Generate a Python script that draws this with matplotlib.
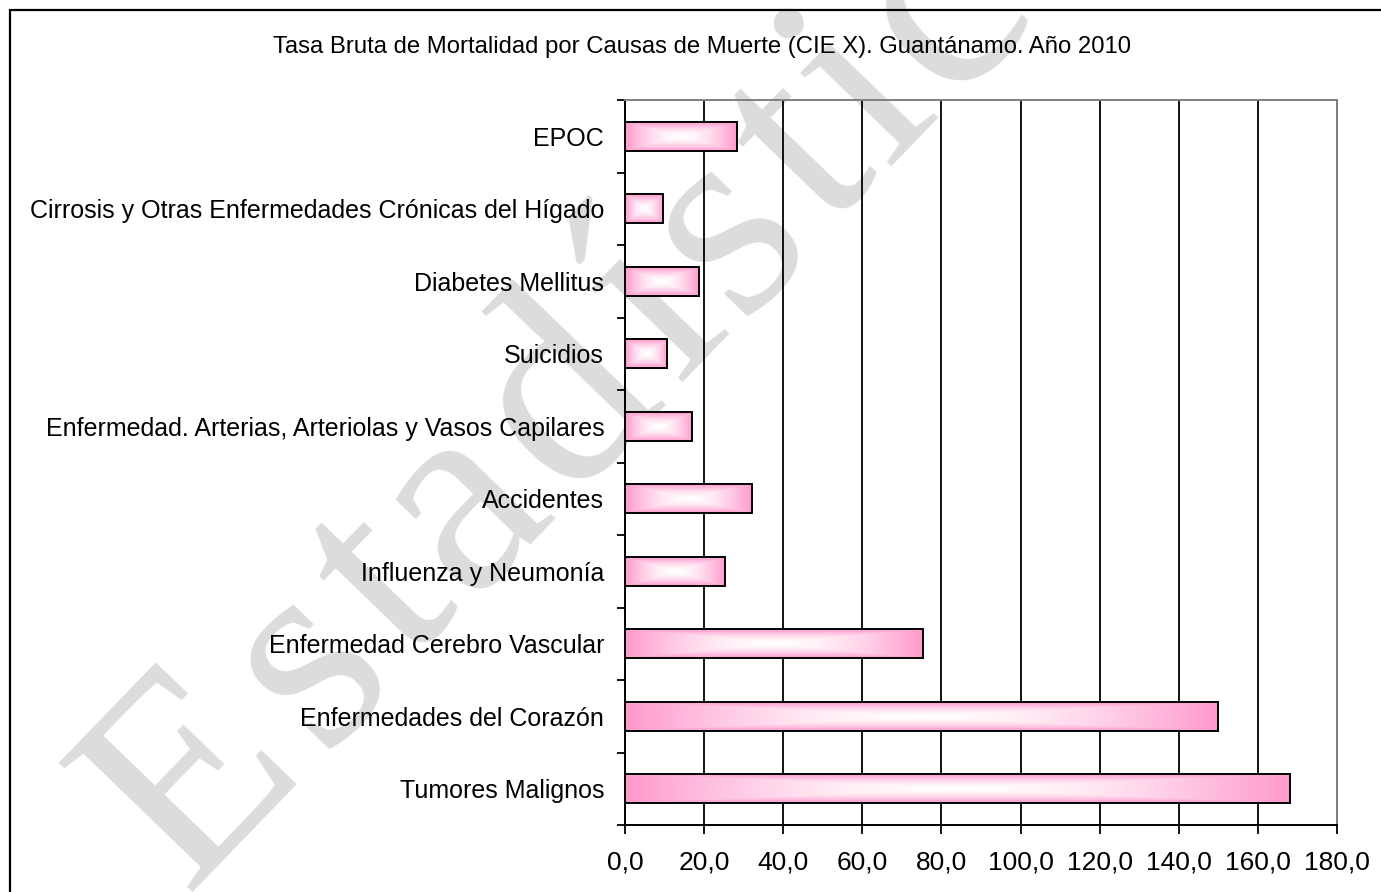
import matplotlib
matplotlib.use("Agg")
import matplotlib.pyplot as plt
import numpy as np
from matplotlib.patches import Rectangle
from matplotlib.colors import to_rgb
from matplotlib.font_manager import FontProperties
from matplotlib.textpath import TextToPath

# datos (de abajo hacia arriba)
causas = ["Tumores Malignos",
          "Enfermedades del Corazón",
          "Enfermedad Cerebro Vascular",
          "Influenza y Neumonía",
          "Accidentes",
          "Enfermedad. Arterias, Arteriolas y Vasos Capilares",
          "Suicidios",
          "Diabetes Mellitus",
          "Cirrosis y Otras Enfermedades Crónicas del Hígado",
          "EPOC"]
tasas = [168.2, 149.8, 75.3, 25.3, 32.1, 17.0, 10.7, 18.6, 9.7, 28.2]
xticks = [0, 20, 40, 60, 80, 100, 120, 140, 160, 180]
xlabels = ["0,0", "20,0", "40,0", "60,0", "80,0", "100,0", "120,0", "140,0", "160,0", "180,0"]
titulo = "Tasa Bruta de Mortalidad por Causas de Muerte (CIE X). Guantánamo. Año 2010"
marca = "Estadísticas"

plt.rcParams['font.family'] = ['Liberation Sans', 'DejaVu Sans']

W, H = 1381, 892
fig = plt.figure(figsize=(W / 100, H / 100), dpi=100)
fig.patch.set_facecolor("white")

# marco de la figura
fig.patches.append(Rectangle((10 / W, -0.05), 1.2, 1.05 - 10 / H,
                             transform=fig.transFigure, fill=False,
                             edgecolor="black", linewidth=1.6, zorder=5))

# marca de agua, letra por letra con espaciado amplio
wm_size = 205
wm_ang = 46
wm_spacing = 1.12
prop = FontProperties(family="Liberation Serif", size=wm_size)
ttp = TextToPath()
x0, y0 = 185.0, 0.0
ca, sa = np.cos(np.radians(wm_ang)), np.sin(np.radians(wm_ang))
for k, ch in enumerate(marca):
    if k == 0:
        d = 0.0
    else:
        wpt = ttp.get_text_width_height_descent(marca[:k], prop, ismath=False)[0]
        d = wpt * 100 / 72 * wm_spacing
    fig.text((x0 + d * ca) / W, (y0 + d * sa) / H, ch, rotation=wm_ang,
             rotation_mode="anchor", ha="left", va="baseline",
             fontproperties=prop, color="#dcdcdc", zorder=-1)

ax = fig.add_axes([625 / W, 1 - 825 / H, (1337 - 625) / W, (825 - 100) / H])
ax.patch.set_alpha(0)

pink = np.array(to_rgb("#ff99cc"))
white = np.array([1.0, 1.0, 1.0])
h = 0.4
for i, v in enumerate(tasas):
    nx, ny = 300, 60
    u = np.abs(np.linspace(-1, 1, nx))[None, :]
    w = np.abs(np.linspace(-1, 1, ny))[:, None]
    t = (np.maximum(u, w) ** 1.6)[..., None]
    img = white * (1 - t) + pink * t
    ax.imshow(img, extent=(0, v, i - h / 2, i + h / 2), aspect="auto",
              interpolation="bilinear", zorder=3, origin="lower")
    ax.add_patch(Rectangle((0, i - h / 2), v, h, fill=False,
                           edgecolor="black", linewidth=1.4, zorder=4))

ax.set_xlim(0, 180)
ax.set_ylim(-0.5, len(causas) - 0.5)

ax.set_xticks(xticks)
ax.set_xticklabels(xlabels, fontsize=19)
ax.set_yticks(range(len(causas)))
ax.set_yticklabels(causas, fontsize=18)
ax.set_yticks(np.arange(-0.5, len(causas), 1), minor=True)
ax.tick_params(axis="y", which="major", length=0, pad=15)
ax.tick_params(axis="y", which="minor", length=6, width=1.3, direction="out")
ax.tick_params(axis="x", length=6.5, width=1.3, direction="out", pad=12)

ax.grid(axis="x", color="black", linewidth=1.3, zorder=1)
ax.set_axisbelow(True)

for s in ["left", "bottom"]:
    ax.spines[s].set_color("black")
    ax.spines[s].set_linewidth(1.4)
for s in ["top", "right"]:
    ax.spines[s].set_color("#808080")
    ax.spines[s].set_linewidth(1.4)

fig.text(702 / W, 1 - 47 / H, titulo, ha="center", va="center", fontsize=17.2)

fig.savefig("out.png", dpi=100)
